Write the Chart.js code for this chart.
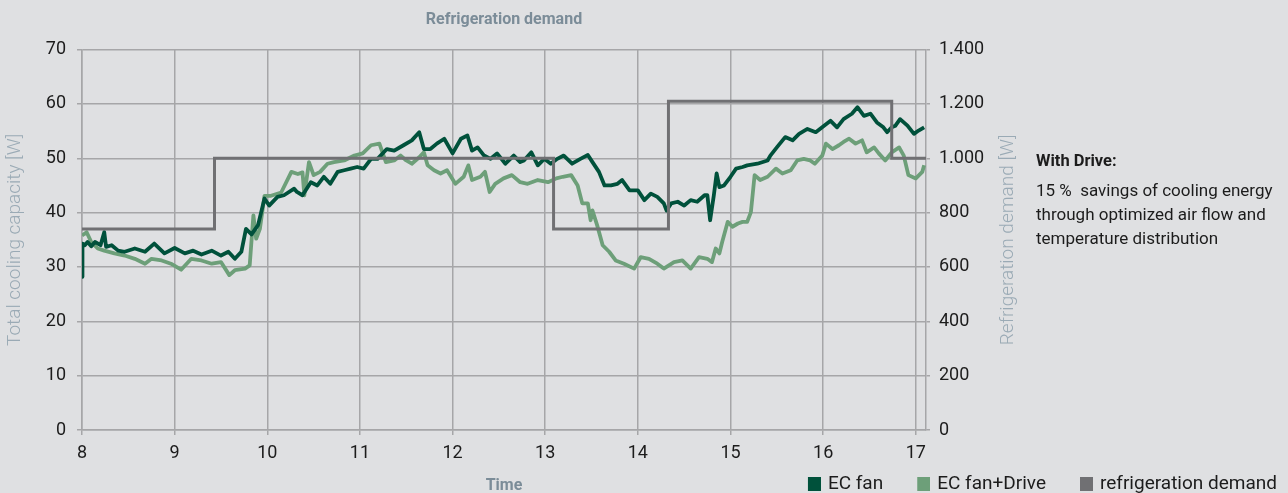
<!DOCTYPE html>
<html>
<head>
<meta charset="utf-8">
<script src="https://cdn.jsdelivr.net/npm/chart.js@4.4.1/dist/chart.umd.min.js"></script>
<style>
  html, body { margin: 0; padding: 0; background: #dfe0e2; }
  #wrap { position: relative; width: 1288px; height: 493px; overflow: hidden; }
  #wrap canvas { position: absolute; left: 0; top: 0; }
  #note { position: absolute; left: 1036px; top: 149px; font-family: Roboto, sans-serif; color: #1c1c1c; font-size: 17px; }
  #note .h { font-weight: 700; line-height: 24px; margin-bottom: 5px; font-size: 16.5px; }
  #note .l { line-height: 24px; white-space: pre; }
</style>
</head>
<body>
<div id="wrap">
  <canvas id="c" width="1288" height="493"></canvas>
  <div id="note">
    <div class="h">With Drive:</div>
    <div class="l">15 %  savings of cooling energy</div>
    <div class="l">through optimized air flow and</div>
    <div class="l">temperature distribution</div>
  </div>
</div>
<script>
// ---- data (hours, W) ----
const hourTicks = [8, 9, 10, 11, 12, 13, 14, 15, 16, 17];

const timeECFan = [
  8.00, 8.005, 8.03, 8.06, 8.10, 8.14, 8.20, 8.24, 8.26, 8.32, 8.39, 8.46, 8.57, 8.68, 8.78, 8.89,
  9.00, 9.11, 9.20, 9.29, 9.40, 9.50, 9.58, 9.65, 9.72, 9.77, 9.83, 9.90, 9.97,
  10.02, 10.11, 10.18, 10.29, 10.32, 10.38, 10.47, 10.54, 10.61, 10.68, 10.76, 10.83, 10.90, 10.97,
  11.04, 11.12, 11.19, 11.29, 11.37, 11.47, 11.56, 11.64, 11.69, 11.76, 11.83, 11.91,
  12.00, 12.09, 12.16, 12.21, 12.27, 12.34, 12.41, 12.48, 12.57, 12.66, 12.73, 12.77, 12.85, 12.92, 12.99,
  13.06, 13.13, 13.20, 13.29, 13.38, 13.46, 13.51, 13.58, 13.64, 13.71, 13.78, 13.83, 13.91,
  14.00, 14.07, 14.14, 14.21, 14.28, 14.31, 14.36, 14.43, 14.50, 14.57, 14.64, 14.72, 14.75, 14.78, 14.82, 14.85, 14.88, 14.93,
  15.00, 15.06, 15.13, 15.18, 15.29, 15.40, 15.43, 15.50, 15.59, 15.67, 15.74, 15.83, 15.92,
  16.01, 16.08, 16.15, 16.22, 16.31, 16.37, 16.44, 16.51, 16.58, 16.65, 16.69, 16.74, 16.78, 16.83, 16.91, 16.98,
  17.03, 17.09
];
const valuesECFan = [
  28.2, 34.3, 34.0, 34.6, 33.8, 34.6, 34.0, 36.4, 33.7, 34.0, 33.0, 32.8, 33.4, 32.8, 34.3, 32.5,
  33.5, 32.5, 33.0, 32.3, 33.0, 32.1, 32.8, 31.5, 32.8, 37.0, 36.0, 37.7, 42.6,
  41.3, 42.9, 43.2, 44.4, 43.8, 43.2, 45.6, 45.0, 46.6, 45.3, 47.5, 47.8, 48.1, 48.4,
  48.1, 49.9, 49.9, 51.7, 51.4, 52.4, 53.3, 54.8, 51.7, 51.7, 52.7, 53.6,
  50.9, 53.6, 54.2, 51.4, 52.0, 50.5, 49.9, 50.9, 49.0, 50.5, 49.3, 49.6, 51.1, 48.7, 49.9,
  49.0, 49.9, 50.5, 49.0, 49.9, 50.6, 49.3, 47.5, 45.0, 45.0, 45.3, 46.0, 44.1,
  44.1, 42.3, 43.5, 42.9, 41.7, 40.4, 41.7, 42.0, 41.3, 42.3, 42.0, 43.2, 43.2, 38.6, 43.2, 47.2, 44.7, 45.0,
  46.6, 48.1, 48.4, 48.7, 49.0, 49.6, 50.5, 52.0, 53.9, 53.3, 54.5, 55.4, 54.8,
  56.0, 56.9, 55.7, 57.2, 58.2, 59.4, 57.8, 58.2, 56.6, 55.7, 54.8, 55.7, 56.0, 57.2, 56.0, 54.5,
  55.1, 55.7
];

const timeDrive = [
  8.00, 8.05, 8.10, 8.17, 8.24, 8.35, 8.46, 8.57, 8.68, 8.75, 8.86, 8.96,
  9.07, 9.18, 9.29, 9.40, 9.50, 9.59, 9.65, 9.76, 9.81, 9.85, 9.88, 9.92, 9.97,
  10.04, 10.15, 10.26, 10.33, 10.38, 10.40, 10.45, 10.50, 10.57, 10.65, 10.72, 10.83, 10.94,
  11.03, 11.12, 11.21, 11.28, 11.37, 11.44, 11.50, 11.56, 11.64, 11.69, 11.73, 11.80, 11.87, 11.94,
  12.03, 12.12, 12.17, 12.21, 12.30, 12.35, 12.40, 12.46, 12.55, 12.64, 12.73, 12.81, 12.92,
  13.03, 13.12, 13.19, 13.28, 13.35, 13.40, 13.46, 13.49, 13.51, 13.56, 13.62, 13.69, 13.76, 13.85, 13.96,
  14.03, 14.12, 14.21, 14.28, 14.39, 14.48, 14.57, 14.66, 14.75, 14.80, 14.84, 14.88, 14.91, 14.97,
  15.02, 15.08, 15.13, 15.18, 15.22, 15.26, 15.32, 15.40, 15.49, 15.56, 15.65, 15.72, 15.79, 15.86, 15.91, 15.99,
  16.03, 16.10, 16.17, 16.22, 16.28, 16.35, 16.42, 16.47, 16.55, 16.60, 16.67, 16.74, 16.82, 16.87, 16.92,
  17.00, 17.07, 17.09
];
const valuesDrive = [
  35.8, 36.4, 34.6, 33.4, 33.0, 32.5, 32.1, 31.5, 30.6, 31.5, 31.2, 30.6,
  29.5, 31.5, 31.2, 30.6, 30.9, 28.5, 29.4, 29.7, 30.3, 39.5, 35.2, 37.0, 43.1,
  43.1, 43.7, 47.5, 47.1, 47.4, 43.2, 49.3, 46.9, 47.5, 49.0, 49.3, 49.6, 50.5,
  50.9, 52.4, 52.7, 49.3, 49.6, 50.5, 49.6, 49.0, 50.2, 51.1, 48.7, 47.8, 47.2, 47.8,
  45.3, 46.6, 48.7, 46.0, 46.6, 47.5, 43.8, 45.3, 46.3, 46.9, 45.6, 45.3, 46.0,
  45.6, 46.3, 46.6, 46.9, 45.0, 41.7, 41.7, 38.6, 40.4, 37.7, 34.0, 32.8, 31.2, 30.6, 29.7,
  31.8, 31.5, 30.6, 29.7, 30.9, 31.2, 29.7, 31.8, 31.5, 30.9, 33.4, 32.5, 34.6, 38.3,
  37.4, 38.0, 38.3, 38.3, 40.1, 46.9, 46.0, 46.6, 48.1, 47.2, 47.8, 49.6, 49.9, 49.6, 49.0, 50.5,
  52.7, 51.7, 52.4, 53.0, 53.6, 52.7, 53.3, 51.1, 52.0, 50.9, 49.6, 51.1, 52.0, 50.5, 46.9,
  46.3, 47.5, 48.7
];

const demandTimes  = [8.00, 9.43, 13.09, 14.33, 16.74, 17.11];
const demandValues = [740, 1000, 740, 1210, 1000, 1000];

// ---- style ----
const COL_EC = '#00513b';
const COL_DRIVE = '#6d9f79';
const COL_DEMAND = '#707073';
const COL_GRID = '#a6a6a8';
const COL_TICK = '#1c1c1c';
const COL_TITLE = '#7b8c98';
const COL_AXTITLE = '#9aaab5';
const FONT = 'Roboto, sans-serif';

function pts(xs, ys) { return xs.map((x, i) => ({ x: x, y: ys[i] })); }
function fmtDE(v) { return String(v).replace(/\B(?=(\d{3})+(?!\d))/g, '.'); }

// legend marker: a 13x14 square drawn at the right end of a wider transparent canvas
function legendMarker(color) {
  const c = document.createElement('canvas');
  c.width = 41; c.height = 14;
  const g = c.getContext('2d');
  g.fillStyle = color;
  g.fillRect(28, 0, 13, 14);
  return c;
}

const rightTitlePlugin = {
  id: 'rightTitle',
  afterDraw(chart) {
    const ctx = chart.ctx, a = chart.chartArea;
    ctx.save();
    ctx.translate(1008, (a.top + a.bottom) / 2);
    ctx.rotate(-Math.PI / 2);
    ctx.font = '300 19px ' + FONT;
    ctx.fillStyle = COL_AXTITLE;
    ctx.textAlign = 'center';
    ctx.textBaseline = 'middle';
    ctx.fillText('Refrigeration demand [W]', 0, 0);
    ctx.restore();
  }
};

new Chart(document.getElementById('c'), {
  type: 'line',
  data: {
    datasets: [
      { label: 'EC fan', data: pts(timeECFan, valuesECFan), borderColor: COL_EC, backgroundColor: COL_EC,
        borderWidth: 3.8, borderJoinStyle: 'round', pointRadius: 0, tension: 0, yAxisID: 'y', order: 1 },
      { label: 'EC fan+Drive', data: pts(timeDrive, valuesDrive), borderColor: COL_DRIVE, backgroundColor: COL_DRIVE,
        borderWidth: 3.8, borderJoinStyle: 'round', pointRadius: 0, tension: 0, yAxisID: 'y', order: 2 },
      { label: 'refrigeration demand', data: pts(demandTimes, demandValues), borderColor: COL_DEMAND, backgroundColor: COL_DEMAND,
        borderWidth: 3, pointRadius: 0, stepped: 'before', yAxisID: 'y2', order: 0 }
    ]
  },
  options: {
    responsive: false,
    animation: false,
    events: [],
    layout: { padding: { left: 0, top: 0, right: 2.5, bottom: -10.5 } },
    plugins: {
      title: {
        display: true, text: 'Refrigeration demand', fullSize: false,
        color: COL_TITLE, font: { family: FONT, size: 16, weight: 'bold' },
        padding: { top: 10, bottom: 20.4 }
      },
      legend: {
        display: true, position: 'bottom', align: 'end',
        labels: {
          color: COL_TICK, font: { family: FONT, size: 19 }, usePointStyle: true, pointStyleWidth: 36,
          boxHeight: 14, padding: 8.5,
          generateLabels(chart) {
            return chart.data.datasets.map((d, i) => ({
              text: d.label, fillStyle: d.borderColor, strokeStyle: d.borderColor, lineWidth: 0,
              pointStyle: legendMarker(d.borderColor), hidden: false, datasetIndex: i, fontColor: COL_TICK
            }));
          }
        }
      },
      tooltip: { enabled: false }
    },
    scales: {
      x: {
        type: 'linear', min: 8, max: 17.11,
        afterBuildTicks(scale) { scale.ticks = hourTicks.map(v => ({ value: v })); },
        afterFit(scale) { scale.height = 36; },
        ticks: { color: COL_TICK, font: { family: FONT, size: 18 }, padding: 8, maxRotation: 0,
                 callback: v => String(v) },
        grid: { color: COL_GRID, lineWidth: 1.5, tickLength: 5 },
        border: { color: COL_GRID, width: 1.5 },
        title: { display: true, text: 'Time', color: COL_TITLE, font: { family: FONT, size: 16, weight: 'bold' },
                 padding: { top: 0, bottom: -29.6 } }
      },
      y: {
        position: 'left', min: 0, max: 70,
        afterFit(scale) { scale.width = 82; },
        ticks: { stepSize: 10, color: COL_TICK, font: { family: FONT, size: 18 }, padding: 11 },
        grid: { color: COL_GRID, lineWidth: 1.5, tickLength: 5 },
        border: { color: COL_GRID, width: 1.5 },
        title: { display: true, text: 'Total cooling capacity [W]', color: COL_AXTITLE,
                 font: { family: FONT, size: 19, weight: '300' }, padding: { top: 4, bottom: 0 } }
      },
      y2: {
        position: 'right', min: 0, max: 1400,
        afterFit(scale) { scale.width = 359.5; },
        ticks: { stepSize: 200, color: COL_TICK, font: { family: FONT, size: 18 }, padding: 9,
                 callback: v => fmtDE(v) },
        grid: { drawOnChartArea: false, color: COL_GRID, lineWidth: 1.5, tickLength: 4 },
        border: { color: COL_GRID, width: 1.5 }
      }
    }
  },
  plugins: [rightTitlePlugin]
});
</script>
</body>
</html>
